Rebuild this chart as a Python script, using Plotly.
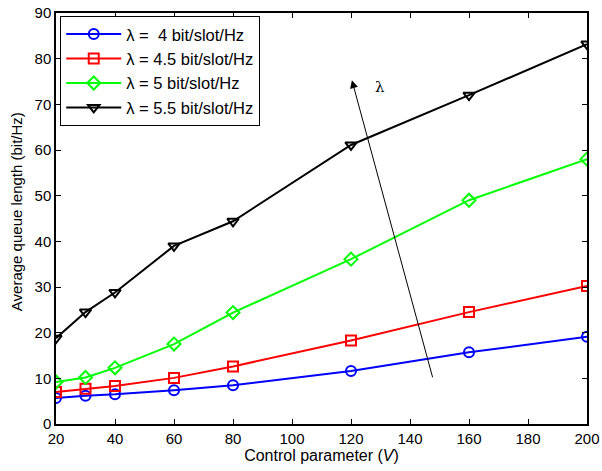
import plotly.graph_objects as go

x_vals = [20, 30, 40, 60, 80, 120, 160, 200]
q_4 = [5.7, 6.2, 6.5, 7.4, 8.5, 11.6, 15.7, 19.1]
q_45 = [7.0, 7.7, 8.3, 10.1, 12.6, 18.3, 24.5, 30.2]
q_5 = [9.2, 10.2, 12.3, 17.5, 24.4, 36.1, 49.0, 58.0]
q_55 = [18.8, 24.5, 28.8, 39.0, 44.4, 61.1, 72.0, 83.2]

names = ["λ =\u00a0 4 bit/slot/Hz", "λ = 4.5 bit/slot/Hz", "λ = 5 bit/slot/Hz", "λ = 5.5 bit/slot/Hz"]
colors = ["#0000ff", "#ff0000", "#00ff00", "#000000"]
symbols = ["circle-open", "square-open", "diamond-open", "triangle-down-open"]
series = [q_4, q_45, q_5, q_55]

x_ticks = [20, 40, 60, 80, 100, 120, 140, 160, 180, 200]
y_ticks = [0, 10, 20, 30, 40, 50, 60, 70, 80, 90]

arrow_tail = (147.8, 9.9)
arrow_head = (120.3, 75.3)

fig = go.Figure()
for name, ys, c, s in zip(names, series, colors, symbols):
    fig.add_trace(go.Scatter(
        x=x_vals, y=ys, name=name, mode="lines+markers",
        line=dict(color=c, width=2),
        marker=dict(symbol=s, size=10, color=c, line=dict(color=c, width=2)),
    ))

fig.add_annotation(
    x=arrow_head[0], y=arrow_head[1], ax=arrow_tail[0], ay=arrow_tail[1],
    xref="x", yref="y", axref="x", ayref="y",
    showarrow=True, arrowhead=2, arrowsize=1.6, arrowwidth=1, arrowcolor="black", text="",
)
fig.add_annotation(x=129.8, y=73.8, xref="x", yref="y", text="λ", showarrow=False,
                   font=dict(size=15, color="black", family="DejaVu Serif"))

# y-axis title placed as rotated annotation
fig.add_annotation(x=-0.073, y=0.516, xref="paper", yref="paper", text="Average queue length (bit/Hz)",
                   textangle=-90, showarrow=False, xanchor="center", yanchor="middle",
                   font=dict(size=15, color="black"))

axis_common = dict(
    showline=True, linecolor="black", linewidth=1.5, mirror="ticks",
    ticks="inside", ticklen=5, tickcolor="black", tickwidth=1, showgrid=False, zeroline=False,
    tickfont=dict(size=15, color="black"), automargin=False,
)
fig.update_xaxes(range=[20, 200], tickvals=x_ticks, **axis_common,
                 title=dict(text="Control parameter (<i>V</i>)", font=dict(size=16, color="black"), standoff=4))
fig.update_yaxes(range=[0, 90], tickvals=y_ticks, **axis_common)

fig.update_layout(
    width=602, height=471,
    margin=dict(l=56, r=15, t=13, b=47),
    paper_bgcolor="white", plot_bgcolor="white",
    font=dict(family="Liberation Sans, Arial, sans-serif", size=15, color="black"),
    legend=dict(x=0.008, y=0.993, xanchor="left", yanchor="top",
                bordercolor="black", borderwidth=1, bgcolor="white",
                font=dict(size=16.5), tracegroupgap=0, itemwidth=55),
    showlegend=True,
)

fig.write_html("out.html", config={"displayModeBar": False},
               post_script="document.body.style.margin='0';document.body.style.overflow='hidden';")
